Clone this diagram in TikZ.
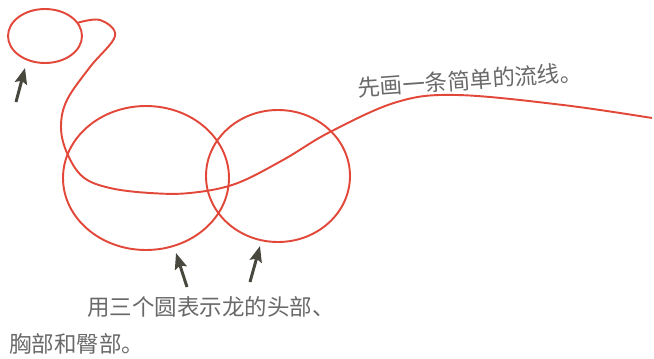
\documentclass[tikz,border=0pt]{standalone}
\usepackage{fontspec}
\newfontfamily\cjk{Noto Sans CJK SC}
\usetikzlibrary{arrows.meta}
\definecolor{linered}{RGB}{226,72,58}
\definecolor{arrowgray}{RGB}{72,72,62}
\definecolor{textgray}{RGB}{105,105,105}

\begin{document}
\begin{tikzpicture}
    [   x=0.02cm, y=0.02cm,
        outline/.style={draw=linered,line width=1.1pt},
        pointer/.style={draw=arrowgray,line width=1.7pt,-{Stealth[length=9pt,width=7pt,inset=1.5pt]}},
        caption/.style={text=textgray,font=\cjk\fontsize{12.8}{15}\selectfont,inner sep=0pt},
    ]
        \useasboundingbox (0,0) rectangle (654,-359);
        % head, chest and hips
        \draw[outline] (45,-36) ellipse (37 and 27);
        \draw[outline] (146,-178) ellipse (83 and 72);
        \draw[outline] (278,-176) ellipse (72 and 66);
        % the flow line
        \draw[outline] plot[smooth,tension=0.6] coordinates
            {(77,-23) (100,-20) (115,-36) (90,-67) (67,-100) (61,-127) (67,-153)
             (83,-177) (110,-188) (150,-193) (190,-193) (235,-184)
             (283,-160) (330,-132) (397,-102) (457,-95)
             (563,-105) (652,-118)};
        % arrows
        \foreach \n/\sx/\sy/\ex/\ey in {head/16/-102/25/-68,chest/187/-287/176/-253,hips/250/-282/260/-246}
        {   \coordinate (\n-s) at (\sx,\sy);
            \coordinate (\n-e) at (\ex,\ey);
            \draw[pointer] (\n-s) -- (\n-e);
        }
        % texts
        \node[caption,rotate=4] (flow) at (470,-80) {先画一条简单的流线。};
        \node[caption,anchor=west] (three) at (87,-307) {用三个圆表示龙的头部、};
        \node[caption,anchor=west] (parts) at (9,-344) {胸部和臀部。};
    \end{tikzpicture}
\end{document}
